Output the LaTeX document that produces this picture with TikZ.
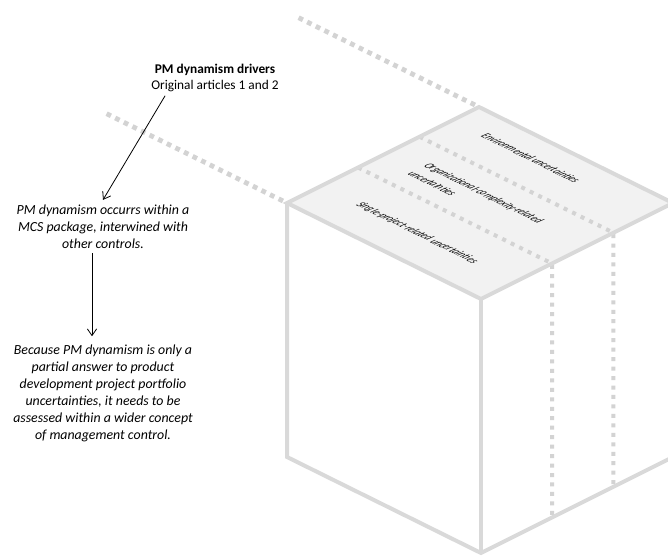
\documentclass[tikz,border=0pt]{standalone}
\usepackage{fontspec}
\setmainfont{Carlito}
\usetikzlibrary{positioning}
\usetikzlibrary{arrows.meta}
\usetikzlibrary{calc}
\definecolor{edgegray}{HTML}{D9D9D9}
\definecolor{dotgray}{HTML}{D3D3D3}
\definecolor{topfill}{HTML}{F2F2F2}
\tikzset{
    boxedge/.style = {line width=3pt, draw=edgegray, line join=miter},
    dotline/.style = {line width=3pt, dotgray, dash pattern=on 3pt off 4.1pt},
    dotlineb/.style = {line width=3.6pt, dotgray, dash pattern=on 3.6pt off 3.6pt},
    mytext/.style = {align=center, font=\fontsize{10.4}{12.75}\selectfont\itshape, inner sep=0pt},
    mytitle/.style = {align=center, font=\fontsize{10}{11.5}\selectfont, inner sep=0pt},
    facetext/.style = {align=left, font=\fontsize{10}{15}\selectfont\itshape, transform shape, inner sep=0pt},
    facetilt/.style = {cm={0.62,-0.31,0.8,0.4,(0,0)}},
    arr/.style = {-{Straight Barb[length=5pt,width=7pt]}, semithick, black},
}

\begin{document}
\begin{tikzpicture}[x=0.75pt, y=-0.75pt]
  \useasboundingbox (0,0) rectangle (668,556);
  % cube corners
  \coordinate (L) at (287,203);
  \coordinate (T) at (479,107);
  \coordinate (F) at (481,299);
  \coordinate (R) at (673,203);
  \coordinate (Lb) at (287,457);
  \coordinate (Fb) at (481,553);
  \coordinate (Rb) at (673,457);
  % top face
  \fill[topfill] (L) -- (T) -- (R) -- (F) -- cycle;
  % back lines
  \draw[dotlineb] ($(T)!-0.93!(R)$) -- (T);
  \draw[dotlineb] ($(L)!-0.93!(F)$) -- (L);
  % strips
  \foreach \f [count=\i] in {0.37,0.69} {
    \coordinate (p\i) at ($(L)!\f!(T)$);
    \coordinate (q\i) at ($(F)!\f!(R)$);
    \coordinate (s\i) at ($(Fb)!\f!(Rb)$);
    \draw[dotline] (p\i) -- (q\i) -- (s\i);
  }
  % edges
  \draw[boxedge] (L) -- (T) -- (R) -- (F) -- cycle;
  \draw[boxedge] (L) -- (Lb) -- (Fb) -- (Rb) -- (R);
  \draw[boxedge] (F) -- (Fb);
  % labels on the top face
  \begin{scope}[shift={(531,158)}, facetilt]
    \node[facetext] (env) at (0,0) {Environmental uncertainties};
  \end{scope}
  \begin{scope}[shift={(476,197)}, facetilt]
    \node[facetext] (org) at (0,0) {Organizational-complexity-related\\uncertainties};
  \end{scope}
  \begin{scope}[shift={(417,233)}, facetilt]
    \node[facetext] (single) at (0,0) {Single-project-related uncertainties};
  \end{scope}
  % text column
  \node[mytitle] (drivers) at (215,78) {\textbf{PM dynamism drivers}\\Original articles 1 and 2};
  \node[mytext] (occurs) at (103,227) {PM dynamism occurrs within a\\MCS package, interwined with\\other controls.};
  \node[mytext] (because) at (103,393) {Because PM dynamism is only a\\partial answer to product\\development project portfolio\\uncertainties, it needs to be\\assessed within a wider concept\\of management control.};
  \draw[arr] ([shift={(14,4)}]drivers.south west) -- ([shift={(0,-5)}]occurs.north);
  \draw[arr] ([shift={(-11,4)}]occurs.south) -- ([shift={(-11,-8)}]because.north);
\end{tikzpicture}
\end{document}
